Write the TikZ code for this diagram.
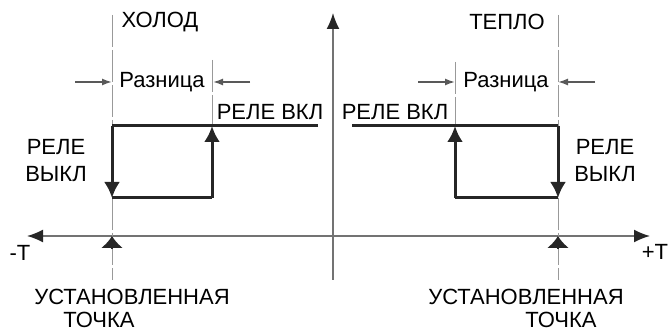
\documentclass[tikz,border=0pt]{standalone}
\usepackage{fontspec}
\setmainfont{Liberation Sans}
\usepackage{tikz}
\usetikzlibrary{arrows.meta}
\usetikzlibrary{positioning}
\tikzset{every picture/.style={line width=0.8pt},
  lbl/.style={font=\fontsize{11}{13.5}\selectfont,inner sep=0pt,align=center},
  relay/.style={line width=1.5pt,black!85},
  axis/.style={line width=0.8pt,black!55},
  guide/.style={line width=0.5pt,black!40,dash pattern=on 16pt off 1.5pt},
  bigtip/.style={-{Latex[length=8pt,width=8pt]}},
  settip/.style={-{Latex[length=6pt,width=11pt]}},
  dimtip/.style={-{Latex[length=5pt,width=3.5pt]},line width=0.8pt,black!65}}

\begin{document}
\begin{tikzpicture}[x=0.5pt,y=-0.5pt]
\useasboundingbox (0,0) rectangle (671,331);
% axes
\coordinate (xl) at (27,236);
\coordinate (xr) at (650,236);
\coordinate (yt) at (333,13);
\coordinate (yb) at (333,280);
\draw[axis,{Latex[length=8pt,width=6.5pt,black!85]}-{Latex[length=8pt,width=6.5pt,black!85]}] (xl) -- (xr);
\draw[axis,-{Latex[length=8pt,width=6.5pt,black!85]}] (yb) -- (yt);
\node[lbl] (mt) at (20,253) {-T};
\node[lbl] (pt) at (655,252) {+T};
% cold side
\coordinate (ca) at (112,15);
\coordinate (cb) at (112,126);
\coordinate (cc) at (112,198);
\coordinate (cd) at (212,198);
\coordinate (ce) at (212,126);
\coordinate (cf) at (318,126);
\coordinate (cg) at (212,60);
\coordinate (ch) at (112,280);
\coordinate (ci) at (112,249);
\coordinate (cj) at (112,236);
\draw[guide] (ca) -- (cb);
\draw[guide] (cg) -- (ce);
\draw[guide] (cc) -- (ch);
\draw[relay] (cf) -- (cb);
\draw[relay,bigtip] (cb) -- (cc);
\draw[relay] (cc) -- (cd);
\draw[relay,bigtip] (cd) -- (ce);
\draw[settip,black!85] (ci) -- (cj);
% warm side
\coordinate (wa) at (558,15);
\coordinate (wb) at (558,126);
\coordinate (wc) at (558,198);
\coordinate (wd) at (455,198);
\coordinate (we) at (455,126);
\coordinate (wf) at (352,126);
\coordinate (wg) at (455,62);
\coordinate (wh) at (558,280);
\coordinate (wi) at (558,249);
\coordinate (wj) at (558,236);
\draw[guide] (wa) -- (wb);
\draw[guide] (wg) -- (we);
\draw[guide] (wc) -- (wh);
\draw[relay] (wf) -- (wb);
\draw[relay,bigtip] (wb) -- (wc);
\draw[relay] (wc) -- (wd);
\draw[relay,bigtip] (wd) -- (we);
\draw[settip,black!85] (wi) -- (wj);
% difference marks
\foreach \x / \y in {75/112,250/213,418/455,595/558} {
\draw[dimtip] (\x,82) -- (\y,82);
}
% labels
\node[lbl] (cold) at (160,22) {ХОЛОД};
\node[lbl] (warm) at (507,22) {ТЕПЛО};
\node[lbl] (cdiff) at (162,82) {Разница};
\node[lbl] (wdiff) at (506,82) {Разница};
\node[lbl] (con) at (270,112) {РЕЛЕ ВКЛ};
\node[lbl] (won) at (395,112) {РЕЛЕ ВКЛ};
\node[lbl] (coff) at (56,161) {РЕЛЕ\\ВЫКЛ};
\node[lbl] (woff) at (605,161) {РЕЛЕ\\ВЫКЛ};
\node[lbl] (cset) at (132,297) {УСТАНОВЛЕННАЯ};
\node[lbl] (cpt) at (99,320) {ТОЧКА};
\node[lbl] (wset) at (526,297) {УСТАНОВЛЕННАЯ};
\node[lbl] (wpt) at (561,320) {ТОЧКА};
\end{tikzpicture}
\end{document}
